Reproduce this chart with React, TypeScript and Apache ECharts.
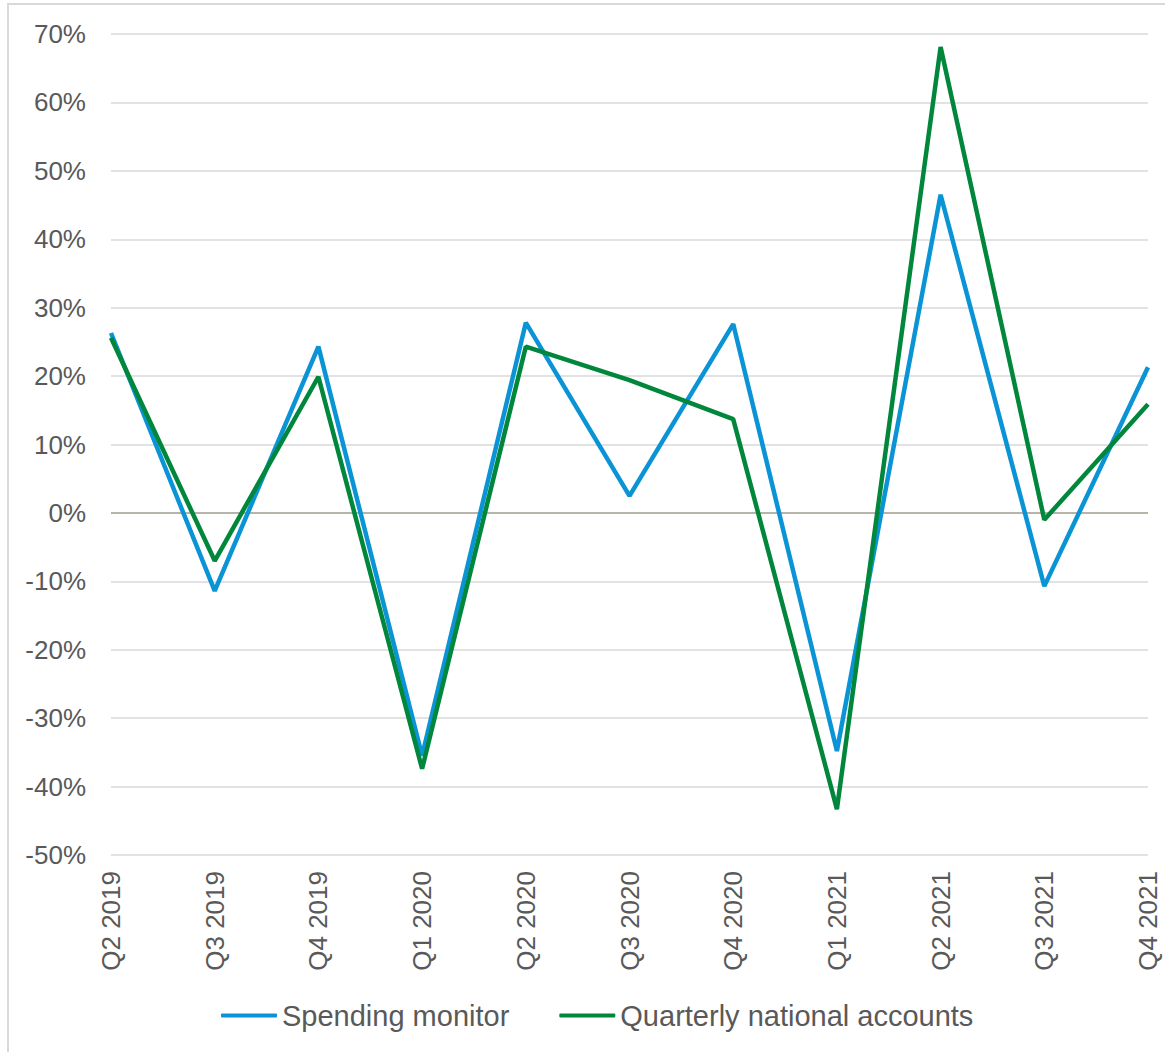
import React, { useEffect, useRef } from "react";
import * as echarts from "echarts";

const categories = ["Q2 2019", "Q3 2019", "Q4 2019", "Q1 2020", "Q2 2020", "Q3 2020", "Q4 2020", "Q1 2021", "Q2 2021", "Q3 2021", "Q4 2021"];
const spendingMonitor = [26.3, -11.4, 24.3, -35.5, 27.8, 2.5, 27.6, -34.8, 46.5, -10.7, 21.3];
const nationalAccounts = [25.6, -7.0, 19.9, -37.4, 24.3, 19.4, 13.7, -43.3, 68.1, -1.0, 15.9];
const yMin = -50;
const yMax = 70;
const yStep = 10;

const FONT = "'Liberation Sans', Arial, sans-serif";
const TEXT = "#595959";

export default function App() {
  const ref = useRef<HTMLDivElement>(null);
  useEffect(() => {
    if (!ref.current) return;
    const chart = echarts.init(ref.current, null, { renderer: "svg" });
    chart.setOption({
      animation: false,
      backgroundColor: "transparent",
      textStyle: { fontFamily: FONT },
      grid: { left: 111, right: 17, top: 34, bottom: 197, containLabel: false },
      legend: {
        left: 216,
        top: 996,
        itemWidth: 56,
        itemHeight: 4,
        itemGap: 50,
        icon: "roundRect",
        textStyle: { fontSize: 29, color: TEXT, fontFamily: FONT },
        data: ["Spending monitor", "Quarterly national accounts"],
      },
      xAxis: {
        type: "category",
        data: categories,
        boundaryGap: false,
        axisLine: { show: false },
        axisTick: { show: false },
        axisLabel: { rotate: 90, margin: 16, fontSize: 26, color: TEXT, fontFamily: FONT, interval: 0 },
        splitLine: { show: false },
      },
      yAxis: {
        type: "value",
        min: yMin,
        max: yMax,
        interval: yStep,
        axisLine: { show: false },
        axisTick: { show: false },
        axisLabel: { margin: 25, fontSize: 26, color: TEXT, fontFamily: FONT, formatter: (v: number) => `${v}%` },
        splitLine: { lineStyle: { color: "#d9d9d9", width: 1.5 } },
      },
      series: [
        {
          name: "Spending monitor",
          type: "line",
          data: spendingMonitor,
          symbol: "none",
          lineStyle: { color: "#0a94d6", width: 4.5 },
          itemStyle: { color: "#0a94d6" },
          markLine: {
            silent: true,
            symbol: "none",
            label: { show: false },
            lineStyle: { color: "#a8a597", width: 1.5, type: "solid" },
            data: [{ yAxis: 0 }],
            z: 1,
          },
          z: 3,
        },
        {
          name: "Quarterly national accounts",
          type: "line",
          data: nationalAccounts,
          symbol: "none",
          lineStyle: { color: "#00873c", width: 4.5 },
          itemStyle: { color: "#00873c" },
          z: 4,
        },
      ],
    });
    return () => chart.dispose();
  }, []);
  return (
    <div style={{ position: "fixed", left: 0, top: 0, width: 1165, height: 1052, background: "#fff" }}>
      <div style={{ position: "absolute", left: 7, top: 3, width: 1200, height: 1100, border: "2px solid #d9d9d9", boxSizing: "border-box" }} />
      <div ref={ref} style={{ position: "absolute", left: 0, top: 0, width: 1165, height: 1052 }} />
    </div>
  );
}
